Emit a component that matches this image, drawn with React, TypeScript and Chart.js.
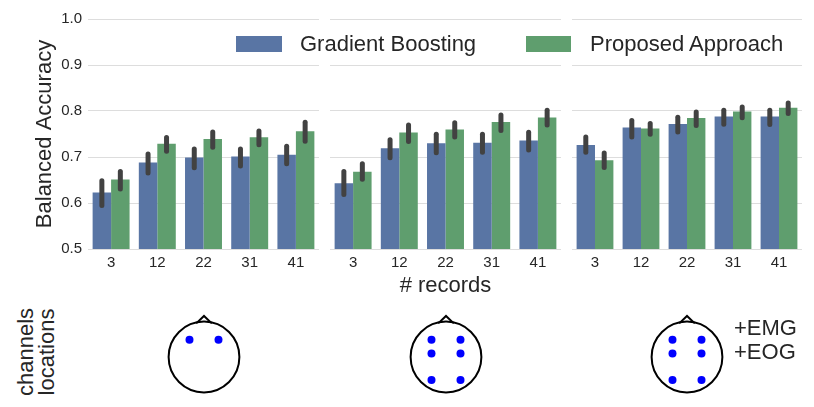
import React, { useEffect, useRef } from 'react';
import { Chart, registerables, Plugin } from 'chart.js';

Chart.register(...registerables);

const FONT = '"Liberation Sans", Arial, Helvetica, sans-serif';
const TEXT = '#262626';
const BLUE = '#5975a4';
const GREEN = '#5f9e6e';

const records = ['3', '12', '22', '31', '41'];
const yTicks = [0.5, 0.6, 0.7, 0.8, 0.9, 1.0];

// panel 1
const gbMean1 = [0.623, 0.688, 0.699, 0.701, 0.705];
const gbLow1 = [0.589, 0.66, 0.671, 0.675, 0.68];
const gbHigh1 = [0.654, 0.712, 0.723, 0.723, 0.729];
const paMean1 = [0.651, 0.729, 0.739, 0.743, 0.756];
const paLow1 = [0.625, 0.707, 0.716, 0.721, 0.729];
const paHigh1 = [0.674, 0.748, 0.76, 0.762, 0.781];

// panel 2
const gbMean2 = [0.643, 0.719, 0.73, 0.731, 0.736];
const gbLow2 = [0.613, 0.693, 0.704, 0.705, 0.71];
const gbHigh2 = [0.674, 0.743, 0.755, 0.755, 0.759];
const paMean2 = [0.668, 0.753, 0.76, 0.776, 0.786];
const paLow2 = [0.646, 0.728, 0.738, 0.752, 0.764];
const paHigh2 = [0.691, 0.775, 0.78, 0.797, 0.807];

// panel 3
const gbMean3 = [0.726, 0.764, 0.772, 0.788, 0.788];
const gbLow3 = [0.705, 0.738, 0.749, 0.766, 0.765];
const gbHigh3 = [0.749, 0.785, 0.792, 0.807, 0.807];
const paMean3 = [0.693, 0.762, 0.785, 0.799, 0.807];
const paLow3 = [0.672, 0.744, 0.763, 0.78, 0.789];
const paHigh3 = [0.714, 0.778, 0.803, 0.814, 0.823];

// electrode positions, in head radius units
const head1X = [-0.41, 0.41];
const head1Y = [0.49, 0.49];
const head2X = [-0.41, 0.41, -0.41, 0.41, -0.41, 0.41];
const head2Y = [0.49, 0.49, 0.1, 0.1, -0.65, -0.65];
const head3X = [-0.41, 0.41, -0.41, 0.41, -0.41, 0.41];
const head3Y = [0.49, 0.49, 0.1, 0.1, -0.65, -0.65];
const noseX = [-0.22, 0, 0.22];
const noseY = [0.95, 1.16, 0.95];

Chart.defaults.font.family = FONT;
Chart.defaults.color = TEXT;

const errorBars: Plugin<'bar'> = {
  id: 'errorBars',
  afterDatasetsDraw(chart) {
    const { ctx } = chart;
    const y = chart.scales.y;
    const w = 5;
    ctx.save();
    ctx.strokeStyle = '#424242';
    ctx.lineWidth = w;
    ctx.lineCap = 'round';
    chart.data.datasets.forEach((ds: any, di) => {
      const meta = chart.getDatasetMeta(di);
      meta.data.forEach((bar: any, i) => {
        const top = y.getPixelForValue(ds.errHigh[i]) + w / 2;
        const bottom = y.getPixelForValue(ds.errLow[i]) - w / 2;
        ctx.beginPath();
        ctx.moveTo(bar.x, bottom);
        ctx.lineTo(bar.x, top);
        ctx.stroke();
      });
    });
    ctx.restore();
  },
};

interface PanelProps {
  left: number;
  width: number;
  gb: number[];
  gbLow: number[];
  gbHigh: number[];
  pa: number[];
  paLow: number[];
  paHigh: number[];
  showY?: boolean;
  showXTitle?: boolean;
}

function BarPanel({ left, width, gb, gbLow, gbHigh, pa, paLow, paHigh, showY = false, showXTitle = false }: PanelProps) {
  const ref = useRef<HTMLCanvasElement>(null);

  useEffect(() => {
    if (!ref.current) return;
    const chart = new Chart(ref.current, {
      type: 'bar',
      data: {
        labels: records,
        datasets: [
          {
            label: 'Gradient Boosting',
            data: gb,
            backgroundColor: BLUE,
            borderWidth: 0,
            categoryPercentage: 0.8,
            barPercentage: 1,
            errLow: gbLow,
            errHigh: gbHigh,
          } as any,
          {
            label: 'Proposed Approach',
            data: pa,
            backgroundColor: GREEN,
            borderWidth: 0,
            categoryPercentage: 0.8,
            barPercentage: 1,
            errLow: paLow,
            errHigh: paHigh,
          } as any,
        ],
      },
      options: {
        animation: false,
        responsive: true,
        maintainAspectRatio: false,
        events: [],
        layout: { padding: { top: 19, right: showY ? 1 : 0, left: 0, bottom: 0 } },
        plugins: { legend: { display: false }, tooltip: { enabled: false } },
        scales: {
          x: {
            grid: { display: false },
            border: { display: false },
            ticks: { font: { size: 15 }, color: TEXT, padding: -3 },
            title: {
              display: showXTitle,
              text: '# records',
              font: { size: 22 },
              color: TEXT,
              padding: { top: 0, bottom: 1 },
            },
            afterFit: (s: any) => {
              s.height = 51;
            },
          },
          y: {
            min: 0.5,
            max: 1.0,
            afterBuildTicks: (s: any) => {
              s.ticks = yTicks.map((v) => ({ value: v }));
            },
            grid: { color: '#dddddd', lineWidth: 1, drawTicks: false },
            border: { display: false },
            ticks: {
              display: showY,
              font: { size: 15 },
              color: TEXT,
              padding: 6,
              callback: (v: any) => Number(v).toFixed(1),
            },
            title: {
              display: showY,
              text: 'Balanced Accuracy',
              font: { size: 22 },
              color: TEXT,
              padding: { top: 32, bottom: 0 },
            },
            afterFit: (s: any) => {
              s.width = showY ? 88 : 0;
            },
          },
        },
      } as any,
      plugins: [errorBars],
    });
    return () => chart.destroy();
  }, []);

  return (
    <div style={{ position: 'absolute', left, top: 0, width, height: 300 }}>
      <canvas ref={ref}></canvas>
    </div>
  );
}

function Head({ cx, xs, ys }: { cx: number; xs: number[]; ys: number[] }) {
  const ref = useRef<HTMLCanvasElement>(null);

  useEffect(() => {
    if (!ref.current) return;
    const chart = new Chart(ref.current, {
      type: 'scatter',
      data: {
        datasets: [
          {
            data: xs.map((x, i) => ({ x, y: ys[i] })),
            backgroundColor: '#0000ff',
            borderWidth: 0,
            pointRadius: 4,
            order: 0,
          },
          {
            data: [{ x: 0, y: 0 }],
            backgroundColor: 'rgba(0,0,0,0)',
            borderColor: '#000000',
            borderWidth: 2,
            pointRadius: (c: any) => {
              const s = c.chart.scales.x;
              return s.getPixelForValue(1) - s.getPixelForValue(0);
            },
            order: 1,
          },
          {
            type: 'line',
            data: noseX.map((x, i) => ({ x, y: noseY[i] })),
            borderColor: '#000000',
            borderWidth: 2,
            pointRadius: 0,
            fill: false,
            showLine: true,
            order: 2,
          } as any,
        ],
      },
      options: {
        animation: false,
        responsive: true,
        maintainAspectRatio: false,
        events: [],
        layout: { padding: 0 },
        plugins: { legend: { display: false }, tooltip: { enabled: false } },
        scales: {
          x: { display: false, min: -1.3, max: 1.3 },
          y: { display: false, min: -1.3, max: 1.3 },
        },
      } as any,
    });
    return () => chart.destroy();
  }, []);

  return (
    <div style={{ position: 'absolute', left: cx - 50, top: 307, width: 100, height: 100 }}>
      <canvas ref={ref}></canvas>
    </div>
  );
}

const textStyle: React.CSSProperties = {
  position: 'absolute',
  fontFamily: FONT,
  fontSize: 22,
  color: TEXT,
  whiteSpace: 'nowrap',
};

export default function App() {
  return (
    <div
      style={{
        position: 'absolute',
        left: 0,
        top: 0,
        width: 814,
        height: 407,
        background: '#ffffff',
        overflow: 'hidden',
      }}
    >
      <BarPanel left={0} width={320} gb={gbMean1} gbLow={gbLow1} gbHigh={gbHigh1} pa={paMean1} paLow={paLow1} paHigh={paHigh1} showY />
      <BarPanel left={330} width={231} gb={gbMean2} gbLow={gbLow2} gbHigh={gbHigh2} pa={paMean2} paLow={paLow2} paHigh={paHigh2} showXTitle />
      <BarPanel left={572} width={230} gb={gbMean3} gbLow={gbLow3} gbHigh={gbHigh3} pa={paMean3} paLow={paLow3} paHigh={paHigh3} />

      {/* legend */}
      <div style={{ position: 'absolute', left: 236, top: 36, width: 46, height: 16, background: BLUE }} />
      <div style={{ ...textStyle, left: 300, top: 31, lineHeight: '26px' }}>Gradient Boosting</div>
      <div style={{ position: 'absolute', left: 526, top: 36, width: 45, height: 16, background: GREEN }} />
      <div style={{ ...textStyle, left: 590, top: 31, lineHeight: '26px' }}>Proposed Approach</div>

      {/* channel locations */}
      <div
        style={{
          ...textStyle,
          left: -14.5,
          top: 331,
          width: 100,
          height: 42,
          lineHeight: '21px',
          textAlign: 'center',
          transform: 'rotate(-90deg)',
        }}
      >
        channels
        <br />
        locations
      </div>
      <Head cx={203.5} xs={head1X} ys={head1Y} />
      <Head cx={445.5} xs={head2X} ys={head2Y} />
      <Head cx={687} xs={head3X} ys={head3Y} />
      <div style={{ ...textStyle, left: 734, top: 316, lineHeight: '24px' }}>
        +EMG
        <br />
        +EOG
      </div>
    </div>
  );
}
